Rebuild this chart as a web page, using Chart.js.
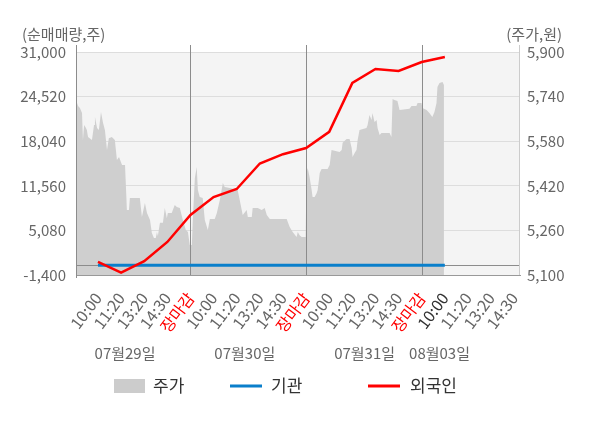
<!DOCTYPE html>
<html>
<head>
<meta charset="utf-8">
<script src="https://cdn.jsdelivr.net/npm/chart.js@4/dist/chart.umd.min.js"></script>
<style>
  html, body { margin: 0; background: #fff; }
</style>
</head>
<body>
<canvas id="chart" width="600" height="428"></canvas>
<script>
const FONT = "'Noto Sans CJK KR', 'Noto Sans', sans-serif";

// x axis: one unit per time label slot, day separators at 5, 10, 15
const tickValues = [1, 2, 3, 4, 5, 6, 7, 8, 9, 10, 11, 12, 13, 14, 15, 16, 17, 18, 19];
const tickLabels = ['10:00', '11:20', '13:20', '14:30', '장마감',
                    '10:00', '11:20', '13:20', '14:30', '장마감',
                    '10:00', '11:20', '13:20', '14:30', '장마감',
                    '10:00', '11:20', '13:20', '14:30'];
const daySeparators = [5, 10, 15];
const dateLabels = ['07월29일', '07월30일', '07월31일', '08월03일'];
const datePositions = [2.17, 7.35, 12.53, 15.77];

// 주가 (right axis)
const priceX = [0.05, 0.14, 0.22, 0.31, 0.35, 0.40, 0.48, 0.52, 0.57, 0.74, 0.83, 0.87, 0.96, 1.04,
  1.13, 1.22, 1.30, 1.39, 1.47, 1.60, 1.73, 1.82, 1.91, 2.04, 2.17, 2.21, 2.25, 2.34, 2.38, 2.81,
  2.90, 3.03, 3.12, 3.25, 3.33, 3.42, 3.50, 3.55, 3.59, 3.68, 3.81, 3.89, 3.98, 4.02, 4.19, 4.32,
  4.41, 4.54, 4.67, 4.80, 4.89, 4.97, 5.06, 5.10, 5.19, 5.27, 5.32, 5.40, 5.53, 5.62, 5.75, 5.84,
  6.05, 6.14, 6.27, 6.40, 6.48, 6.70, 7.04, 7.13, 7.26, 7.43, 7.48, 7.65, 7.69, 7.91, 8.08, 8.21,
  8.30, 8.43, 9.16, 9.29, 9.42, 9.59, 9.64, 9.72, 9.81, 9.98, 10.02, 10.07, 10.15, 10.24, 10.28,
  10.37, 10.46, 10.50, 10.59, 10.67, 10.93, 11.02, 11.10, 11.45, 11.54, 11.58, 11.75, 11.88, 11.97,
  12.01, 12.10, 12.18, 12.23, 12.31, 12.61, 12.66, 12.74, 12.83, 12.87, 12.96, 13.05, 13.09, 13.18,
  13.26, 13.61, 13.69, 13.74, 13.82, 13.95, 14.04, 14.47, 14.56, 14.77, 14.82, 14.99, 15.03, 15.21,
  15.33, 15.46, 15.55, 15.64, 15.68, 15.77, 15.90, 15.96];
const priceValues = [5728, 5706, 5699, 5681, 5584, 5638, 5627, 5620, 5595, 5584, 5638, 5667, 5627, 5620,
  5685, 5645, 5620, 5548, 5591, 5595, 5584, 5513, 5523, 5495, 5495, 5416, 5333, 5333, 5376, 5376,
  5308, 5358, 5322, 5297, 5251, 5233, 5233, 5254, 5240, 5287, 5287, 5340, 5304, 5322, 5322, 5351,
  5344, 5340, 5297, 5261, 5254, 5208, 5208, 5297, 5448, 5487, 5405, 5380, 5376, 5297, 5261, 5301,
  5301, 5322, 5369, 5430, 5416, 5412, 5405, 5369, 5315, 5333, 5308, 5308, 5340, 5340, 5333, 5340,
  5315, 5301, 5301, 5272, 5254, 5236, 5254, 5243, 5236, 5236, 5466, 5484, 5452, 5405, 5380,
  5380, 5394, 5405, 5466, 5480, 5480, 5495, 5548, 5541, 5548, 5574, 5588, 5588, 5556,
  5523, 5538, 5548, 5584, 5620, 5627, 5638, 5674, 5656, 5681, 5649, 5656, 5627, 5602,
  5609, 5609, 5595, 5731, 5728, 5724, 5692, 5696, 5706, 5706, 5717, 5717, 5699, 5692,
  5681, 5667, 5685, 5717, 5774, 5789, 5792, 5782];

// 순매매량 (left axis), one value per time slot
const flowX = [1, 2, 3, 4, 5, 6, 7, 8, 9, 10, 11, 12, 13, 14, 15, 16];
const institution = [0, 0, 0, 0, 0, 0, 0, 0, 0, 0, 0, 0, 0, 0, 0, 0];
const foreigner = [500, -1060, 600, 3400, 7320, 9930, 11100, 14800, 16150, 17050, 19400, 26500, 28530, 28240, 29550, 30280];

const leftTicks = [-1400, 5080, 11560, 18040, 24520, 31000];
const rightTicks = [5100, 5260, 5420, 5580, 5740, 5900];

const toPoints = (xs, ys) => xs.map((x, i) => ({ x: x, y: ys[i] }));

const decor = {
  id: 'decor',
  beforeDraw(chart) {
    const { ctx, chartArea: a } = chart;
    ctx.save();
    ctx.fillStyle = '#f4f4f4';
    ctx.fillRect(a.left, a.top, a.right - a.left, a.bottom - a.top);
    ctx.restore();
  },
  afterDatasetDraw(chart, args) {
    if (args.index !== 0) return;
    const { ctx, chartArea: a, scales } = chart;
    ctx.save();
    ctx.lineWidth = 1;
    // zero line
    const y0 = Math.round(scales.yL.getPixelForValue(0)) + 0.5;
    ctx.strokeStyle = '#8c8c8c';
    ctx.beginPath();
    ctx.moveTo(a.left, y0);
    ctx.lineTo(a.right, y0);
    ctx.stroke();
    // day separators and frame
    daySeparators.forEach(v => {
      const x = Math.round(scales.x.getPixelForValue(v)) + 0.5;
      ctx.beginPath();
      ctx.moveTo(x, a.top - 7);
      ctx.lineTo(x, a.bottom);
      ctx.stroke();
    });
    ctx.beginPath();
    ctx.moveTo(a.left + 0.5, a.top - 7);
    ctx.lineTo(a.left + 0.5, a.bottom + 3);
    ctx.stroke();
    ctx.strokeStyle = '#cccccc';
    ctx.beginPath();
    ctx.moveTo(a.right - 0.5, a.top - 7);
    ctx.lineTo(a.right - 0.5, a.bottom);
    ctx.stroke();
    ctx.restore();
  },
  afterDraw(chart) {
    const { ctx, chartArea: a, scales } = chart;
    ctx.save();
    ctx.font = '15px ' + FONT;
    ctx.fillStyle = '#666';
    ctx.textBaseline = 'middle';
    ctx.textAlign = 'left';
    ctx.fillText('(순매매량,주)', 22, 34);
    ctx.textAlign = 'right';
    ctx.fillText('(주가,원)', 562, 34);
    ctx.textAlign = 'center';
    dateLabels.forEach((t, i) => {
      ctx.fillText(t, scales.x.getPixelForValue(datePositions[i]), 353);
    });

    // legend
    const ly = 386;
    ctx.font = '17px ' + FONT;
    ctx.textAlign = 'left';
    ctx.fillStyle = '#cccccc';
    ctx.fillRect(114, ly - 7, 31, 14);
    ctx.fillStyle = '#333';
    ctx.fillText('주가', 153, ly);
    ctx.fillStyle = '#0a7fcb';
    ctx.fillRect(230, ly - 1.5, 32, 3);
    ctx.fillStyle = '#333';
    ctx.fillText('기관', 271, ly);
    ctx.fillStyle = '#ff0000';
    ctx.fillRect(368, ly - 1.5, 32, 3);
    ctx.fillStyle = '#333';
    ctx.fillText('외국인', 410, ly);
    ctx.restore();
  }
};

new Chart(document.getElementById('chart'), {
  type: 'line',
  data: {
    datasets: [
      {
        label: '주가',
        data: toPoints(priceX, priceValues),
        yAxisID: 'yR',
        borderWidth: 0,
        backgroundColor: '#cfcfcf',
        fill: 'start',
        pointRadius: 0,
        tension: 0,
        order: 2
      },
      {
        label: '기관',
        data: toPoints(flowX, institution),
        yAxisID: 'yL',
        borderColor: '#0a7fcb',
        borderWidth: 3,
        pointRadius: 0,
        fill: false,
        order: 1
      },
      {
        label: '외국인',
        data: toPoints(flowX, foreigner),
        yAxisID: 'yL',
        borderColor: '#ff0000',
        borderWidth: 2.5,
        pointRadius: 0,
        fill: false,
        order: 0
      }
    ]
  },
  options: {
    responsive: false,
    animation: false,
    layout: { padding: { top: 52, left: 0, right: 0, bottom: 0 } },
    plugins: { legend: { display: false }, tooltip: { enabled: false } },
    scales: {
      x: {
        type: 'linear',
        min: 0.05,
        max: 19.25,
        afterBuildTicks: s => { s.ticks = tickValues.map(v => ({ value: v })); },
        afterFit: s => { s.height = 153; },
        grid: { display: false },
        border: { color: '#999' },
        ticks: {
          autoSkip: false,
          minRotation: 53,
          maxRotation: 53,
          padding: 6,
          font: { family: FONT, size: 16 },
          color: c => tickLabels[c.index] === '장마감' ? '#ff0000' : (c.index === 15 ? '#333' : '#666'),
          callback: (v, i) => tickLabels[i]
        }
      },
      yL: {
        position: 'left',
        min: -1400,
        max: 31000,
        afterBuildTicks: s => { s.ticks = leftTicks.map(v => ({ value: v })); },
        afterFit: s => { s.width = 76; },
        grid: { color: '#dddddd', drawTicks: false },
        border: { display: false },
        ticks: {
          padding: 10,
          font: { family: FONT, size: 15 },
          color: '#666',
          callback: v => v.toLocaleString('en-US')
        }
      },
      yR: {
        position: 'right',
        min: 5100,
        max: 5900,
        afterBuildTicks: s => { s.ticks = rightTicks.map(v => ({ value: v })); },
        afterFit: s => { s.width = 80; },
        grid: { display: false, drawTicks: false },
        border: { display: false },
        ticks: {
          padding: 7,
          font: { family: FONT, size: 15 },
          color: '#666',
          callback: v => v.toLocaleString('en-US')
        }
      }
    }
  },
  plugins: [decor]
});
</script>
</body>
</html>
